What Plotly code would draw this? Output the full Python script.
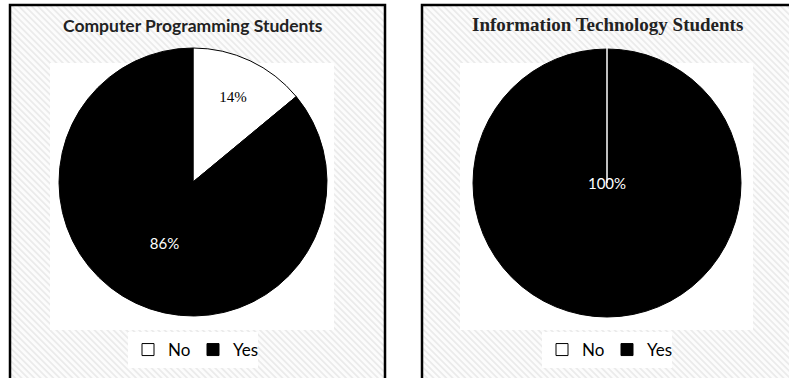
import base64
import plotly.graph_objects as go

W, H = 789, 378

# ---- data ----
labels = ["No", "Yes"]
cp_values = [14, 86]      # Computer Programming Students
it_values = [0, 100]      # Information Technology Students
titles = ["Computer Programming Students", "Information Technology Students"]


def px(x):
    return x / W


def py(y):
    return 1 - y / H


def hatch_uri(w, h):
    svg = (
        f"<svg xmlns='http://www.w3.org/2000/svg' width='{w}' height='{h}' "
        f"viewBox='0 0 {w} {h}' preserveAspectRatio='none'>"
        "<defs><pattern id='p' width='4.5' height='4.5' patternUnits='userSpaceOnUse' "
        "patternTransform='rotate(-45)'>"
        "<rect width='4.5' height='4.5' fill='#fcfcfc'/>"
        "<rect width='1.8' height='4.5' fill='#ebebeb'/></pattern></defs>"
        "<rect width='100%' height='100%' fill='url(#p)'/></svg>"
    )
    return "data:image/svg+xml;base64," + base64.b64encode(svg.encode()).decode()


fig = go.Figure()

R = 134
centers = [(193, 182), (607, 183)]
# pie legends share entries by label, so the second pie gets labels padded with a
# trailing space (invisible) to get its own legend
pie_labels = [labels, [l + " " for l in labels]]
for i, (vals, (cx, cy)) in enumerate(zip([cp_values, it_values], centers)):
    fig.add_trace(go.Pie(
        labels=pie_labels[i],
        values=vals,
        sort=False,
        direction="clockwise",
        rotation=0,
        marker=dict(colors=["white", "black"], line=dict(color="black", width=1)),
        textinfo="percent",
        textposition="inside",
        insidetextorientation="horizontal",
        textfont=dict(family=["Liberation Serif", "Lato"], color=["black", "white"], size=15),
        domain=dict(x=[px(cx - R), px(cx + R)], y=[py(cy + R), py(cy - R)]),
        legend="legend" if i == 0 else "legend2",
        showlegend=True,
    ))

shapes = []
images = []
boxes = [(10, 385), (422, 805)]
for (x0, x1) in boxes:
    images.append(dict(source=hatch_uri(x1 - x0, H), xref="paper", yref="paper",
                       x=px(x0), y=py(5), sizex=px(x1) - px(x0), sizey=py(5) - py(H + 5),
                       sizing="stretch", layer="below", xanchor="left", yanchor="top"))
    shapes.append(dict(type="rect", xref="paper", yref="paper", x0=px(x0), x1=px(x1),
                       y0=py(H + 10), y1=py(5), line=dict(color="black", width=2.5),
                       fillcolor="rgba(0,0,0,0)", layer="above"))

# white plot areas
for (x0, x1) in [(50, 334), (460, 753)]:
    shapes.append(dict(type="rect", xref="paper", yref="paper", x0=px(x0), x1=px(x1),
                       y0=py(330), y1=py(63), line=dict(width=0), fillcolor="white", layer="below"))

# slice boundary of the empty "No" slice in the right pie
cx, cy = centers[1]
shapes.append(dict(type="line", xref="paper", yref="paper", x0=px(cx), x1=px(cx),
                   y0=py(cy), y1=py(cy - R - 4), line=dict(color="white", width=1.5),
                   layer="above"))

annotations = [
    dict(text=f"<b>{titles[0]}</b>", x=px(193), y=py(25), xref="paper", yref="paper",
         showarrow=False, xanchor="center", yanchor="middle",
         font=dict(family="Lato", size=17.5, color="#222")),
    dict(text=f"<b>{titles[1]}</b>", x=px(607), y=py(24), xref="paper", yref="paper",
         showarrow=False, xanchor="center", yanchor="middle",
         font=dict(family="Liberation Serif", size=19, color="#222")),
]

leg = dict(orientation="h", xanchor="center", yanchor="middle", bgcolor="white",
           font=dict(family="Lato", size=17, color="black"), itemwidth=30,
           entrywidth=20, traceorder="normal")

fig.update_layout(
    width=W, height=H,
    margin=dict(l=0, r=0, t=0, b=0),
    paper_bgcolor="white",
    shapes=shapes,
    images=images,
    annotations=annotations,
    legend=dict(leg, x=px(193), y=py(350)),
    legend2=dict(leg, x=px(607), y=py(350)),
)

fig.write_html("out.html", config={"displayModeBar": False},
               post_script="document.body.style.margin='0';")
